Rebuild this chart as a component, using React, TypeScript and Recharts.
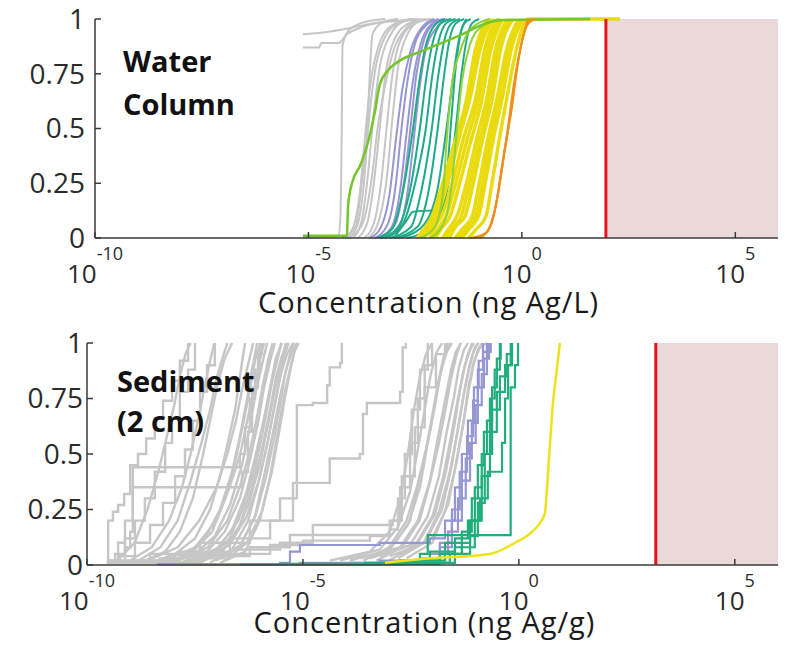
import React from 'react';
import { LineChart, Line, XAxis, YAxis, ReferenceArea, ReferenceLine } from 'recharts';

// every curve point: [log10 concentration, cumulative probability]
type Pt = [number, number];

const xTicks = [1e-10, 1e-5, 1, 1e5];
const yTicks = [0, 0.25, 0.5, 0.75, 1];
const xDomain: [number, number] = [1e-10, 1e6];

// threshold concentrations (ng Ag/L and ng Ag/g)
const waterThreshold = 93;
const sedimentThreshold = 1480;

// ---- water column ----
const waterGray: Pt[][] = [
  [[-5.13, 0.87], [-4.75, 0.87], [-4.7, 0.89], [-4.3, 0.89], [-4.1, 0.93], [-3.8, 0.96], [-3.3, 0.985], [-2.9, 1]],
  [[-5.13, 0.93], [-4.6, 0.94], [-4.0, 0.96], [-3.5, 0.98], [-3.0, 0.99], [-2.5, 1]],
  [[-5.13, 0], [-4.3, 0.01], [-4.25, 0.1], [-4.22, 0.5], [-4.2, 0.88], [-4.05, 0.95], [-3.6, 0.99], [-3.2, 1]],
  [[-4.2, 0], [-3.9, 0.05], [-3.75, 0.25], [-3.62, 0.5], [-3.55, 0.8], [-3.5, 0.93], [-3.3, 0.98], [-2.9, 1]],
  [[-4.15, 0], [-3.95, 0.05], [-3.8, 0.2], [-3.68, 0.45], [-3.55, 0.7], [-3.35, 0.88], [-3.05, 0.97], [-2.6, 1]],
  [[-4.05, 0], [-3.85, 0.06], [-3.7, 0.25], [-3.6, 0.5], [-3.45, 0.75], [-3.25, 0.9], [-2.9, 0.98], [-2.5, 1]],
  [[-3.95, 0], [-3.75, 0.08], [-3.6, 0.3], [-3.48, 0.55], [-3.33, 0.78], [-3.1, 0.92], [-2.75, 0.99], [-2.4, 1]],
  [[-3.85, 0], [-3.62, 0.07], [-3.45, 0.28], [-3.33, 0.5], [-3.2, 0.74], [-3.0, 0.9], [-2.65, 0.98], [-2.25, 1]],
  [[-3.7, 0], [-3.48, 0.06], [-3.3, 0.25], [-3.17, 0.5], [-3.03, 0.75], [-2.83, 0.91], [-2.5, 0.98], [-2.15, 1]],
  [[-3.6, 0], [-3.35, 0.08], [-3.15, 0.3], [-3.03, 0.55], [-2.9, 0.78], [-2.68, 0.93], [-2.4, 0.99], [-2.05, 1]],
  [[-4.1, 0], [-3.85, 0.03], [-3.65, 0.12], [-3.5, 0.3], [-3.38, 0.5], [-3.2, 0.7], [-3.0, 0.86], [-2.7, 0.96], [-2.35, 1]],
];

const waterPurple: Pt[][] = [
  [[-3.55, 0], [-3.3, 0.05], [-3.1, 0.2], [-2.95, 0.45], [-2.8, 0.68], [-2.6, 0.86], [-2.35, 0.96], [-2.05, 1]],
  [[-3.45, 0], [-3.15, 0.06], [-2.95, 0.25], [-2.82, 0.5], [-2.67, 0.73], [-2.5, 0.89], [-2.25, 0.97], [-1.95, 1]],
  [[-3.35, 0], [-3.05, 0.05], [-2.85, 0.22], [-2.7, 0.48], [-2.55, 0.72], [-2.38, 0.88], [-2.15, 0.97], [-1.85, 1]],
  [[-3.3, 0], [-2.95, 0.07], [-2.75, 0.27], [-2.6, 0.52], [-2.47, 0.75], [-2.3, 0.9], [-2.05, 0.98], [-1.8, 1]],
  [[-3.2, 0], [-2.9, 0.04], [-2.7, 0.18], [-2.55, 0.42], [-2.4, 0.68], [-2.25, 0.86], [-2.0, 0.96], [-1.75, 1]],
];

const waterTeal: Pt[][] = [
  [[-3.4, 0], [-3.05, 0.04], [-2.8, 0.2], [-2.55, 0.5], [-2.4, 0.72], [-2.25, 0.88], [-2.05, 0.97], [-1.8, 1]],
  [[-3.3, 0], [-2.9, 0.05], [-2.62, 0.22], [-2.39, 0.5], [-2.24, 0.73], [-2.08, 0.9], [-1.9, 0.98], [-1.65, 1]],
  [[-3.2, 0], [-2.8, 0.06], [-2.5, 0.25], [-2.25, 0.5], [-2.1, 0.74], [-1.95, 0.9], [-1.78, 0.98], [-1.55, 1]],
  [[-3.1, 0], [-2.6, 0.05], [-2.35, 0.22], [-2.11, 0.5], [-1.96, 0.74], [-1.82, 0.9], [-1.65, 0.98], [-1.45, 1]],
  [[-3.0, 0], [-2.45, 0.05], [-2.2, 0.2], [-1.97, 0.5], [-1.83, 0.73], [-1.7, 0.9], [-1.55, 0.98], [-1.35, 1]],
  [[-3.0, 0], [-2.7, 0.08], [-2.55, 0.12], [-1.85, 0.13], [-1.75, 0.3], [-1.65, 0.55], [-1.55, 0.78], [-1.45, 0.92], [-1.3, 1]],
  [[-2.9, 0], [-2.4, 0.04], [-2.0, 0.2], [-1.8, 0.45], [-1.62, 0.72], [-1.48, 0.9], [-1.35, 0.98], [-1.2, 1]],
  [[-2.7, 0], [-2.1, 0.05], [-1.75, 0.22], [-1.55, 0.5], [-1.42, 0.74], [-1.3, 0.9], [-1.17, 0.98], [-1.0, 1]],
];

const waterYellow: Pt[][] = [
  [[-2.45, 0], [-2.3, 0.04], [-2.1, 0.1], [-1.9, 0.22], [-1.6, 0.42], [-1.3, 0.63], [-1.1, 0.85], [-0.8, 1]],
  [[-2.38, 0], [-2.24, 0.04], [-2.04, 0.1], [-1.82, 0.24], [-1.54, 0.44], [-1.25, 0.64], [-1.04, 0.86], [-0.72, 1]],
  [[-2.3, 0], [-2.18, 0.03], [-1.98, 0.1], [-1.74, 0.25], [-1.48, 0.45], [-1.2, 0.65], [-0.98, 0.86], [-0.66, 1]],
  [[-2.16, 0], [-2.04, 0.05], [-1.84, 0.12], [-1.62, 0.26], [-1.36, 0.46], [-1.08, 0.64], [-0.86, 0.87], [-0.55, 1]],
  [[-2.09, 0], [-1.97, 0.04], [-1.76, 0.11], [-1.55, 0.25], [-1.28, 0.45], [-1.02, 0.63], [-0.8, 0.86], [-0.5, 1]],
  [[-2.02, 0], [-1.9, 0.04], [-1.68, 0.1], [-1.47, 0.24], [-1.2, 0.44], [-0.95, 0.62], [-0.74, 0.85], [-0.45, 1]],
  [[-1.86, 0], [-1.72, 0.04], [-1.5, 0.11], [-1.3, 0.25], [-1.05, 0.46], [-0.82, 0.64], [-0.62, 0.86], [-0.33, 1]],
  [[-1.78, 0], [-1.64, 0.04], [-1.42, 0.1], [-1.22, 0.25], [-0.98, 0.45], [-0.76, 0.63], [-0.56, 0.86], [-0.26, 1]],
  [[-1.7, 0], [-1.56, 0.05], [-1.33, 0.1], [-1.15, 0.24], [-0.92, 0.45], [-0.7, 0.63], [-0.5, 0.86], [-0.2, 1]],
  [[-1.56, 0], [-1.4, 0.04], [-1.16, 0.1], [-1.0, 0.25], [-0.8, 0.45], [-0.58, 0.64], [-0.36, 0.86], [-0.08, 1]],
  [[-1.48, 0], [-1.32, 0.04], [-1.08, 0.1], [-0.92, 0.25], [-0.73, 0.46], [-0.52, 0.64], [-0.3, 0.86], [-0.03, 1]],
  [[-1.4, 0], [-1.24, 0.04], [-1.0, 0.11], [-0.85, 0.26], [-0.66, 0.46], [-0.47, 0.63], [-0.25, 0.86], [0.02, 1]],
  [[-1.25, 0], [-1.07, 0.04], [-0.84, 0.1], [-0.7, 0.25], [-0.53, 0.45], [-0.36, 0.63], [-0.13, 0.86], [0.14, 1], [2.3, 1]],
];

const waterLime: Pt[][] = [
  [[-2.39, 0], [-2.04, 0.05], [-1.85, 0.2], [-1.76, 0.45], [-1.64, 0.7], [-1.45, 0.85], [-1.22, 0.95], [-0.75, 1]],
  [[-2.15, 0], [-1.8, 0.08], [-1.64, 0.25], [-1.52, 0.5], [-1.4, 0.72], [-1.22, 0.88], [-0.98, 0.96], [-0.52, 1]],
];

const waterGreen: Pt[] = [
  [-5.13, 0.01], [-4.1, 0.01], [-4.07, 0.15], [-3.98, 0.25], [-3.79, 0.33], [-3.63, 0.42], [-3.44, 0.58],
  [-3.33, 0.7], [-3.16, 0.76], [-2.86, 0.81], [-2.39, 0.85], [-1.76, 0.9], [-1.29, 0.94], [-0.98, 0.97],
  [-0.4, 0.995], [1.6, 1],
];

const waterOrange: Pt[][] = [
  [[-1.22, 0], [-0.87, 0.02], [-0.7, 0.08], [-0.56, 0.2], [-0.4, 0.4], [-0.23, 0.6], [-0.09, 0.8], [0.07, 0.95], [0.23, 1]],
  [[-0.98, 0], [-0.75, 0.05], [-0.61, 0.15], [-0.45, 0.35], [-0.28, 0.55], [-0.14, 0.75], [0.0, 0.9], [0.14, 1]],
  [[-1.1, 0], [-0.8, 0.03], [-0.66, 0.1], [-0.52, 0.25], [-0.33, 0.5], [-0.19, 0.7], [-0.05, 0.85], [0.12, 0.97], [0.3, 1]],
];

// ---- sediment (2 cm) ----
// sparse, stepped cdfs
const sedimentGrayStairs: Pt[][] = [
  [[-9.54, 0.03], [-9.51, 0.2], [-9.4, 0.24], [-9.28, 0.27], [-9.14, 0.32], [-9.0, 0.45], [-8.82, 0.5], [-8.63, 0.57], [-8.43, 0.66], [-8.24, 0.74], [-8.03, 0.83], [-7.85, 0.92], [-7.66, 1]],
  [[-9.54, 0.02], [-9.35, 0.05], [-9.12, 0.12], [-8.89, 0.2], [-8.66, 0.3], [-8.43, 0.42], [-8.19, 0.55], [-8.03, 0.66], [-7.85, 0.78], [-7.66, 0.88], [-7.5, 1]],
  [[-9.54, 0.01], [-9.24, 0.04], [-8.89, 0.1], [-8.54, 0.18], [-8.24, 0.28], [-7.96, 0.4], [-7.73, 0.52], [-7.55, 0.65], [-7.38, 0.78], [-7.22, 0.9], [-7.04, 1]],
  [[-9.54, 0.02], [-9.28, 0.1], [-9.12, 0.2], [-8.94, 0.44], [-6.46, 0.5], [-6.34, 0.62], [-6.23, 0.75], [-6.11, 0.88], [-6.0, 1]],
  [[-9.47, 0.01], [-9.12, 0.08], [-9.0, 0.15], [-8.94, 0.35], [-6.41, 0.42], [-6.27, 0.6], [-6.18, 0.8], [-6.04, 0.95], [-5.95, 1]],
  [[-9.24, 0.02], [-8.54, 0.05], [-7.38, 0.1], [-6.23, 0.2], [-5.53, 0.3], [-5.14, 0.39], [-5.14, 0.72], [-4.77, 0.73], [-4.44, 0.81], [-4.38, 0.89], [-4.14, 0.91], [-4.1, 1]],
  [[-9.0, 0.02], [-7.85, 0.06], [-6.69, 0.12], [-5.76, 0.2], [-5.23, 0.37], [-4.38, 0.48], [-3.68, 0.5], [-3.61, 0.68], [-3.52, 0.73], [-2.75, 0.78], [-2.69, 0.98], [-2.62, 1]],
  [[-9.54, 0.01], [-8.31, 0.03], [-6.69, 0.07], [-5.53, 0.1], [-4.77, 0.18], [-2.92, 0.2], [-2.75, 0.35], [-2.52, 0.55], [-2.34, 0.75], [-2.18, 0.9], [-2.01, 1]],
  [[-9.47, 0.01], [-7.85, 0.04], [-6.23, 0.08], [-5.3, 0.135], [-2.99, 0.16], [-2.8, 0.3], [-2.64, 0.5], [-2.48, 0.7], [-2.29, 0.88], [-2.11, 1]],
  [[-9.35, 0.01], [-7.38, 0.05], [-5.76, 0.09], [-5.0, 0.11], [-3.45, 0.13], [-2.99, 0.2], [-2.71, 0.4], [-2.41, 0.62], [-2.18, 0.8], [-1.92, 0.95], [-1.71, 1]],
];

// dense cdfs with many samples
const sedimentGrayCurves: Pt[][] = [
  [[-8.54, 0.01], [-7.96, 0.05], [-7.5, 0.12], [-7.15, 0.25], [-6.92, 0.4], [-6.74, 0.55], [-6.57, 0.7], [-6.46, 0.85], [-6.34, 1]],
  [[-8.31, 0.01], [-7.73, 0.04], [-7.27, 0.12], [-6.92, 0.25], [-6.64, 0.42], [-6.46, 0.58], [-6.3, 0.74], [-6.18, 0.88], [-6.06, 1]],
  [[-8.08, 0.01], [-7.5, 0.05], [-7.04, 0.13], [-6.69, 0.27], [-6.41, 0.45], [-6.23, 0.62], [-6.09, 0.78], [-5.95, 0.9], [-5.83, 1]],
  [[-7.85, 0.01], [-7.27, 0.05], [-6.81, 0.15], [-6.46, 0.3], [-6.23, 0.47], [-6.04, 0.64], [-5.9, 0.8], [-5.76, 0.92], [-5.65, 1]],
  [[-7.62, 0.01], [-7.04, 0.06], [-6.64, 0.16], [-6.32, 0.32], [-6.09, 0.5], [-5.9, 0.66], [-5.76, 0.8], [-5.63, 0.93], [-5.49, 1]],
  [[-7.38, 0.01], [-6.87, 0.06], [-6.46, 0.18], [-6.18, 0.35], [-5.95, 0.52], [-5.76, 0.7], [-5.63, 0.84], [-5.49, 0.94], [-5.35, 1]],
  [[-7.15, 0.01], [-6.64, 0.07], [-6.27, 0.2], [-6.02, 0.38], [-5.81, 0.56], [-5.65, 0.72], [-5.51, 0.86], [-5.37, 0.95], [-5.23, 1]],
  [[-7.04, 0.02], [-6.46, 0.08], [-6.11, 0.22], [-5.88, 0.42], [-5.69, 0.6], [-5.53, 0.76], [-5.39, 0.88], [-5.25, 0.96], [-5.12, 1]],
  [[-6.92, 0.01], [-6.34, 0.06], [-6.0, 0.2], [-5.76, 0.4], [-5.58, 0.6], [-5.42, 0.78], [-5.28, 0.9], [-5.14, 1]],
  [[-8.77, 0.01], [-8.19, 0.06], [-7.85, 0.15], [-7.55, 0.3], [-7.31, 0.5], [-7.15, 0.65], [-6.97, 0.82], [-6.81, 0.93], [-6.64, 1]],
  [[-7.5, 0.01], [-6.95, 0.05], [-6.55, 0.14], [-6.25, 0.28], [-6.0, 0.45], [-5.82, 0.62], [-5.66, 0.78], [-5.52, 0.9], [-5.4, 1]],
  [[-7.8, 0.01], [-7.1, 0.04], [-6.7, 0.12], [-6.38, 0.26], [-6.12, 0.44], [-5.95, 0.6], [-5.8, 0.76], [-5.62, 0.9], [-5.5, 1]],
  [[-8.6, 0.02], [-7.9, 0.08], [-7.4, 0.2], [-7.0, 0.35], [-6.75, 0.5], [-6.55, 0.65], [-6.4, 0.8], [-6.25, 0.92], [-6.15, 1]],
  [[-8.2, 0.02], [-7.5, 0.08], [-7.0, 0.2], [-6.7, 0.35], [-6.45, 0.5], [-6.28, 0.66], [-6.12, 0.8], [-6.0, 0.92], [-5.9, 1]],
  [[-7.9, 0.02], [-7.2, 0.08], [-6.75, 0.2], [-6.45, 0.36], [-6.22, 0.52], [-6.05, 0.68], [-5.92, 0.82], [-5.8, 0.93], [-5.7, 1]],
  [[-7.6, 0.02], [-6.95, 0.08], [-6.5, 0.2], [-6.2, 0.37], [-6.0, 0.53], [-5.85, 0.68], [-5.72, 0.82], [-5.6, 0.93], [-5.5, 1]],
  [[-7.3, 0.02], [-6.7, 0.09], [-6.3, 0.22], [-6.02, 0.38], [-5.82, 0.55], [-5.68, 0.7], [-5.55, 0.83], [-5.44, 0.94], [-5.33, 1]],
  [[-7.0, 0.02], [-6.45, 0.09], [-6.1, 0.22], [-5.85, 0.4], [-5.67, 0.57], [-5.53, 0.72], [-5.42, 0.85], [-5.3, 0.95], [-5.2, 1]],
  [[-6.8, 0.02], [-6.3, 0.1], [-5.95, 0.24], [-5.72, 0.42], [-5.55, 0.6], [-5.42, 0.75], [-5.3, 0.87], [-5.2, 0.96], [-5.1, 1]],
  [[-8.0, 0.01], [-7.6, 0.05], [-7.1, 0.15], [-6.8, 0.3], [-6.55, 0.48], [-6.38, 0.64], [-6.22, 0.8], [-6.1, 0.93], [-5.98, 1]],
  [[-9.0, 0.02], [-8.5, 0.08], [-8.1, 0.2], [-7.8, 0.35], [-7.6, 0.5], [-7.42, 0.66], [-7.28, 0.8], [-7.15, 0.92], [-7.05, 1]],
  [[-9.3, 0.02], [-8.9, 0.1], [-8.6, 0.25], [-8.35, 0.42], [-8.15, 0.58], [-7.98, 0.72], [-7.85, 0.85], [-7.72, 0.95], [-7.6, 1]],
  [[-8.8, 0.02], [-8.3, 0.08], [-7.9, 0.2], [-7.6, 0.38], [-7.35, 0.55], [-7.15, 0.7], [-7.0, 0.84], [-6.85, 0.94], [-6.75, 1]],
  [[-4.38, 0.02], [-3.45, 0.06], [-2.99, 0.15], [-2.75, 0.3], [-2.57, 0.5], [-2.43, 0.7], [-2.29, 0.85], [-2.15, 0.95], [-2.01, 1]],
  [[-4.14, 0.02], [-3.22, 0.07], [-2.8, 0.17], [-2.52, 0.33], [-2.34, 0.52], [-2.18, 0.7], [-2.04, 0.86], [-1.9, 0.96], [-1.78, 1]],
  [[-3.91, 0.02], [-2.99, 0.07], [-2.57, 0.18], [-2.29, 0.35], [-2.11, 0.55], [-1.94, 0.72], [-1.81, 0.87], [-1.67, 0.96], [-1.55, 1]],
  [[-3.68, 0.03], [-2.75, 0.08], [-2.34, 0.2], [-2.06, 0.38], [-1.88, 0.57], [-1.71, 0.74], [-1.57, 0.88], [-1.46, 0.96], [-1.34, 1]],
  [[-3.45, 0.03], [-2.52, 0.09], [-2.11, 0.22], [-1.85, 0.4], [-1.67, 0.6], [-1.5, 0.76], [-1.39, 0.89], [-1.27, 0.97], [-1.18, 1]],
  [[-3.22, 0.04], [-2.34, 0.1], [-1.94, 0.23], [-1.69, 0.42], [-1.5, 0.62], [-1.37, 0.78], [-1.25, 0.9], [-1.13, 0.97], [-1.04, 1]],
  [[-2.99, 0.04], [-2.18, 0.1], [-1.78, 0.25], [-1.55, 0.45], [-1.39, 0.64], [-1.25, 0.8], [-1.13, 0.91], [-1.02, 0.98], [-0.93, 1]],
  [[-2.75, 0.05], [-2.01, 0.12], [-1.64, 0.27], [-1.44, 0.47], [-1.27, 0.66], [-1.16, 0.81], [-1.04, 0.92], [-0.9, 0.98], [-0.74, 1]],
  [[-3.91, 0.03], [-3.22, 0.05], [-2.87, 0.1], [-2.52, 0.2], [-2.29, 0.4], [-2.06, 0.6], [-1.88, 0.8], [-1.74, 0.93], [-1.6, 1]],
  [[-3.6, 0.02], [-3.0, 0.08], [-2.6, 0.2], [-2.35, 0.36], [-2.15, 0.52], [-2.0, 0.68], [-1.87, 0.82], [-1.75, 0.93], [-1.65, 1]],
  [[-3.3, 0.02], [-2.7, 0.08], [-2.3, 0.2], [-2.05, 0.38], [-1.85, 0.55], [-1.7, 0.7], [-1.57, 0.84], [-1.45, 0.94], [-1.35, 1]],
  [[-3.0, 0.02], [-2.4, 0.09], [-2.0, 0.22], [-1.75, 0.4], [-1.57, 0.58], [-1.42, 0.74], [-1.3, 0.86], [-1.18, 0.95], [-1.08, 1]],
  [[-2.8, 0.03], [-2.2, 0.1], [-1.85, 0.24], [-1.6, 0.42], [-1.42, 0.6], [-1.28, 0.76], [-1.16, 0.88], [-1.05, 0.96], [-0.95, 1]],
  [[-2.6, 0.03], [-2.0, 0.1], [-1.7, 0.25], [-1.47, 0.44], [-1.3, 0.62], [-1.17, 0.78], [-1.05, 0.9], [-0.95, 0.97], [-0.85, 1]],
];

const sedimentPurple: Pt[][] = [
  [[-8.38, 0.004], [-5.53, 0.01], [-5.3, 0.06], [-5.07, 0.09], [-3.22, 0.1], [-2.06, 0.12], [-1.71, 0.2], [-1.48, 0.35], [-1.32, 0.5], [-1.18, 0.65], [-1.04, 0.8], [-0.93, 0.92], [-0.83, 1]],
  [[-8.19, 0.004], [-5.07, 0.01], [-2.29, 0.03], [-1.83, 0.1], [-1.55, 0.25], [-1.37, 0.42], [-1.2, 0.58], [-1.06, 0.74], [-0.95, 0.88], [-0.83, 0.96], [-0.74, 1]],
  [[-7.38, 0.004], [-3.91, 0.01], [-2.06, 0.05], [-1.64, 0.15], [-1.41, 0.3], [-1.23, 0.48], [-1.09, 0.64], [-0.95, 0.8], [-0.81, 0.93], [-0.69, 1]],
  [[-6.46, 0.004], [-3.22, 0.02], [-1.83, 0.08], [-1.55, 0.2], [-1.32, 0.38], [-1.13, 0.55], [-1.0, 0.72], [-0.86, 0.86], [-0.74, 0.96], [-0.65, 1]],
];

const sedimentGreen: Pt[][] = [
  [[-6.46, 0.003], [-5.53, 0.005], [-3.56, 0.01], [-2.29, 0.05], [-2.11, 0.135], [-0.19, 0.8], [-0.09, 0.9], [-0.02, 1]],
  [[-5.07, 0.004], [-2.75, 0.02], [-1.71, 0.1], [-1.13, 0.2], [-0.9, 0.3], [-0.72, 0.42], [-0.39, 0.55], [-0.32, 0.75], [-0.25, 0.9], [-0.19, 1]],
  [[-3.56, 0.005], [-2.06, 0.06], [-1.48, 0.12], [-1.18, 0.2], [-1.02, 0.35], [-0.86, 0.5], [-0.74, 0.65], [-0.62, 0.8], [-0.51, 0.93], [-0.42, 1]],
  [[-3.22, 0.005], [-1.83, 0.05], [-1.32, 0.15], [-1.09, 0.3], [-0.95, 0.45], [-0.81, 0.6], [-0.67, 0.75], [-0.56, 0.88], [-0.44, 1]],
  [[-2.75, 0.01], [-1.6, 0.05], [-1.13, 0.13], [-0.95, 0.28], [-0.79, 0.5], [-0.62, 0.7], [-0.44, 0.85], [-0.28, 0.95], [-0.16, 1]],
  [[-2.29, 0.01], [-1.48, 0.08], [-1.02, 0.2], [-0.86, 0.4], [-0.67, 0.6], [-0.51, 0.78], [-0.32, 0.9], [-0.16, 1]],
];

const sedimentYellow: Pt[] = [
  [-3.1, 0.01], [-2.06, 0.03], [-0.67, 0.05], [-0.09, 0.1], [0.25, 0.14], [0.49, 0.19], [0.6, 0.23],
  [0.67, 0.4], [0.74, 0.6], [0.79, 0.73], [0.86, 0.85], [0.95, 1],
];

const FONT = "'Open Sans', 'DejaVu Sans', sans-serif";
const AXIS = '#3a3a3a';
const RED = '#e5141c';
const SHADE = '#ebd9d9';
const GRAY = '#c6c6c6';

type CurveType = 'monotone' | 'stepAfter' | 'linear';
type Group = { name: string; curves: Pt[][]; color: string; width: number; type: CurveType };

const toRows = (c: Pt[]) => c.map(([e, p]) => ({ x: Math.pow(10, e), y: p }));

const waterGroups: Group[] = [
  { name: 'gray', curves: waterGray, color: GRAY, width: 2, type: 'monotone' },
  { name: 'purple', curves: waterPurple, color: '#9696d2', width: 2, type: 'monotone' },
  { name: 'teal', curves: waterTeal, color: '#1fab89', width: 2, type: 'monotone' },
  { name: 'yellow', curves: waterYellow, color: '#eadb0e', width: 3.5, type: 'monotone' },
  { name: 'lime', curves: waterLime, color: '#8fd23a', width: 2, type: 'monotone' },
  { name: 'green', curves: [waterGreen], color: '#74c62a', width: 2.5, type: 'monotone' },
  { name: 'orange', curves: waterOrange, color: '#f0901c', width: 2, type: 'monotone' },
];

const sedimentGroups: Group[] = [
  { name: 'gray-stairs', curves: sedimentGrayStairs, color: GRAY, width: 2.4, type: 'stepAfter' },
  { name: 'gray', curves: sedimentGrayCurves, color: GRAY, width: 2.4, type: 'linear' },
  { name: 'purple', curves: sedimentPurple, color: '#9696d2', width: 2.2, type: 'stepAfter' },
  { name: 'green', curves: sedimentGreen, color: '#22ae7c', width: 2.2, type: 'stepAfter' },
  { name: 'yellow', curves: [sedimentYellow], color: '#eee31a', width: 2.5, type: 'monotone' },
];

const XTick = (props: any) => {
  const { x, y, payload } = props;
  const exp = Math.round(Math.log10(payload.value));
  return (
    <text x={x} y={y + 45} textAnchor="middle" fontFamily={FONT} fontSize={26} fill="#2b2b2b">
      <tspan>10</tspan>
      <tspan dy={-23} fontSize={18}>{exp}</tspan>
    </text>
  );
};

const AxisTitle = (props: any) => {
  const { viewBox, text, dy } = props;
  return (
    <text
      x={viewBox.x + viewBox.width / 2 - 8} y={viewBox.y + dy} textAnchor="middle"
      fontFamily={FONT} fontSize={29} letterSpacing={1} fill="#1a1a1a"
    >
      {text}
    </text>
  );
};

const PanelLabel = (props: any) => {
  const { viewBox, lines, dx, baselines } = props;
  return (
    <text fontFamily={FONT} fontSize={29} fontWeight={700} fill="#111">
      {lines.map((t: string, i: number) => (
        <tspan key={t} x={viewBox.x + viewBox.width + dx} y={viewBox.y + baselines[i]}>{t}</tspan>
      ))}
    </text>
  );
};

type PanelProps = {
  height: number;
  top: number;
  yWidth: number;
  xHeight: number;
  tickMargin: number;
  groups: Group[];
  threshold: number;
  title: string;
  titleDy: number;
  label: string[];
  labelDx: number;
  labelBaselines: number[];
};

const Panel = ({ height, top, yWidth, xHeight, tickMargin, groups, threshold, title, titleDy, label, labelDx, labelBaselines }: PanelProps) => {
  const axisStyle = { stroke: AXIS, strokeWidth: 1.5 };
  return (
    <LineChart width={785} height={height} margin={{ top, right: 7, left: 0, bottom: 0 }}>
      <XAxis
        dataKey="x" type="number" scale="log" domain={xDomain} ticks={xTicks} interval={0} allowDataOverflow
        height={xHeight} axisLine={axisStyle} tickLine={axisStyle} tickSize={-6} tickMargin={6}
        tick={<XTick />} label={<AxisTitle text={title} dy={titleDy} />}
      />
      <XAxis
        xAxisId="top" orientation="top" dataKey="x" type="number" scale="log" domain={xDomain} ticks={xTicks}
        interval={0} allowDataOverflow height={0} axisLine={axisStyle} tickLine={axisStyle} tickSize={-6} tick={false}
      />
      <YAxis
        type="number" domain={[0, 1]} ticks={yTicks} interval={0} width={yWidth} axisLine={axisStyle}
        tickLine={axisStyle} tickSize={-6} tickMargin={tickMargin}
        tick={{ fontFamily: FONT, fontSize: 28, fill: '#2b2b2b' }}
        label={<PanelLabel lines={label} dx={labelDx} baselines={labelBaselines} />}
      />
      <YAxis
        yAxisId="right" orientation="right" type="number" domain={[0, 1]} ticks={yTicks} interval={0} width={0}
        axisLine={axisStyle} tickLine={axisStyle} tickSize={-6} tick={false}
      />
      <ReferenceArea x1={threshold} x2={1e6} y1={0} y2={1} fill={SHADE} fillOpacity={1} stroke="none" ifOverflow="hidden" />
      {groups.flatMap((g) =>
        g.curves.map((c, i) => (
          <Line
            key={`${g.name}-${i}`}
            data={toRows(c)}
            dataKey="y"
            type={g.type}
            stroke={g.color}
            strokeWidth={g.width}
            dot={false}
            activeDot={false}
            isAnimationActive={false}
          />
        ))
      )}
      <ReferenceLine x={threshold} stroke={RED} strokeWidth={3} />
    </LineChart>
  );
};

export default function App() {
  return (
    <div style={{ position: 'absolute', left: 0, top: 0, width: 785, height: 648, background: '#fff' }}>
      <div style={{ position: 'absolute', left: 0, top: 0 }}>
        <Panel
          height={320} top={19} yWidth={95} xHeight={82} tickMargin={16}
          groups={waterGroups} threshold={waterThreshold}
          title="Concentration (ng Ag/L)" titleDy={75}
          label={['Water', 'Column']} labelDx={28} labelBaselines={[53, 96]}
        />
      </div>
      <div style={{ position: 'absolute', left: 0, top: 320 }}>
        <Panel
          height={328} top={23} yWidth={87} xHeight={83} tickMargin={10}
          groups={sedimentGroups} threshold={sedimentThreshold}
          title="Concentration (ng Ag/g)" titleDy={68}
          label={['Sediment', '(2 cm)']} labelDx={30} labelBaselines={[49, 89]}
        />
      </div>
    </div>
  );
}
